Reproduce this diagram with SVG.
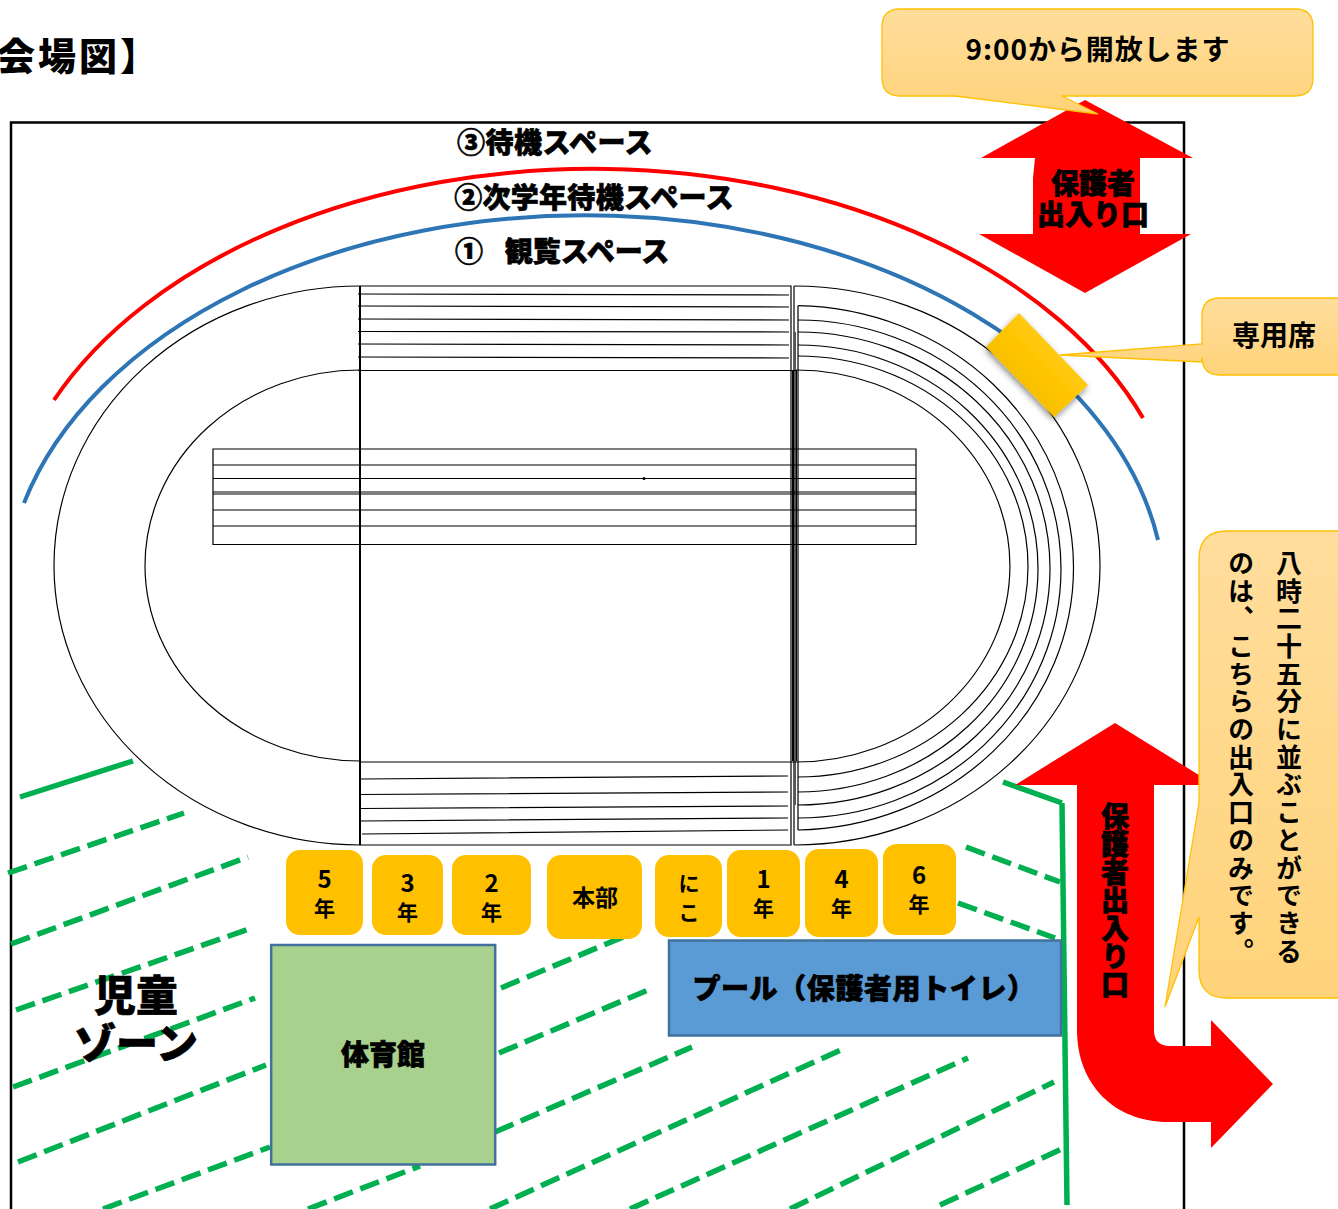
<svg xmlns="http://www.w3.org/2000/svg" width="1338" height="1209" viewBox="0 0 1338 1209">
<style>
text{font-family:"Noto Sans CJK JP","Noto Sans",sans-serif;fill:#000;text-anchor:middle}
.pop{font-weight:900;font-size:28px;stroke:#000;stroke-width:.7px}
.lab{font-weight:700;font-size:28px}
.box{fill:#ffc000;stroke:none}
.num{font-weight:700;font-size:24px}
.t{fill:none;stroke:#000;stroke-width:1.2}
.g{fill:none;stroke:#00b050;stroke-width:5.500}
.d{fill:none;stroke:#00b050;stroke-width:5.500;stroke-dasharray:20 8}
.call{fill:url(#cg);stroke:#ffc000;stroke-width:1.3}
.red{fill:#f00}
.vert{writing-mode:vertical-rl;text-orientation:upright;font-weight:700;font-size:26px;letter-spacing:1.700px;text-anchor:start}
</style>
<defs>
<linearGradient id="cg" x1="0" y1="0" x2="0" y2="1"><stop offset="0" stop-color="#ffdd9c"/><stop offset="1" stop-color="#ffd37a"/></linearGradient>
<linearGradient id="seat" x1="0" y1="1" x2="1" y2="0"><stop offset="0" stop-color="#e8b000"/><stop offset=".5" stop-color="#ffc600"/><stop offset="1" stop-color="#ffd040"/></linearGradient>
<filter id="sh" x="-30%" y="-30%" width="160%" height="160%"><feDropShadow dx="-1" dy="3" stdDeviation="3" flood-color="#000" flood-opacity=".45"/></filter>
</defs>
<rect width="1338" height="1209" fill="#fff"/>
<text id="title" x="-3" y="70" font-size="38" font-weight="900" letter-spacing="3" style="text-anchor:start">会場図】</text>
<rect id="frame" x="11" y="122.500" width="1173" height="1100" fill="none" stroke="#000" stroke-width="2.500"/>

<g id="zones">
<path class="g" d="M20 797L133 761M1003 782L1062 803M1062 803L1067 1205"/>
<path class="d" d="M8 873L184 813M11 944L248 857M16 1010L252 928M13 1087L255 998M18 1162L266 1065M103 1209L270 1147M501 988L623 937M499 1053L648 990M495 1132L692 1047M308 1209L420 1166M490 1209L845 1048M630 1209L968 1058M790 1209L1054 1082M940 1205L1064 1148M966 847L1060 882M958 903L1055 938"/>
</g>

<g id="boundaries">
<path d="M54 400A590 390 0 0 1 1143 418" fill="none" stroke="#f00" stroke-width="4"/>
<path d="M24 503A580 385 0 0 1 1158 540" fill="none" stroke="#2e75b6" stroke-width="4"/>
</g>

<g id="track">
<path class="t" d="M360 286A306 279.500 0 0 0 360 845M360 370A215 195.500 0 0 0 360 761"/>
<path class="t" d="M794 286A306 279.500 0 0 1 794 845"/>
<path class="t" d="M798 305.700A281 262.200 0 0 1 798 830M798 320A263 249 0 0 1 798 818M798 332A252 236.500 0 0 1 798 805M798 345A240 223.500 0 0 1 798 792M798 356A230 210.500 0 0 1 798 777M796 370A214 196 0 0 1 796 762"/>
<path class="t" d="M360 286H791V845H360M794 286V845M798 305.700V830"/>
<path d="M360 286V845" fill="none" stroke="#000" stroke-width="2"/>
<path d="M794.500 370V761" fill="none" stroke="#000" stroke-width="5"/>
<path d="M795 332V805" fill="none" stroke="#555" stroke-width="2"/>
<path class="t" d="M358 294L789 295M358 306L789 307M358 319L789 320M358 331.500L789 332M358 344L789 345M358 357L789 358M358 370.500H796"/>
<path class="t" d="M360 762H796M361 779L788 776M361 794.500L788 792M361 808.500L788 806M361 821L788 818M362 834L788 830"/>
<path class="t" d="M213 449H916V544.500H213ZM213 465H916M213 478.500H916M213 492H916M213 494H916M213 510H916M213 526H916"/>
<circle cx="644" cy="478.500" r="1.500" fill="#000"/>
</g>

<text id="label-3" class="pop" x="555" y="153" letter-spacing=".5">③待機スペース</text>
<text id="label-2" class="pop" x="594" y="208" letter-spacing=".3">②次学年待機スペース</text>
<text id="label-1" class="pop" x="469" y="262">①<tspan x="587">観覧スペース</tspan></text>

<g id="arrow-parents">
<path class="red" d="M1085 100L1193 158H1140V234H1191L1085 293L979 234H1033V178L1035 158H981Z"/>
<text class="pop" x="1093" y="194">保護者</text>
<text class="pop" x="1093" y="225">出入り口</text>
</g>

<g id="arrow-exit">
<path class="red" d="M1115 723L1215 785H1154V1030Q1154 1046 1170 1046H1211V1020L1273 1084L1211 1148V1122H1168C1115 1122 1077 1085 1077 1030V785H1015Z"/>
<text class="pop vert" x="1115" y="802" style="font-weight:900;font-size:28px;letter-spacing:0">保護者出入り口</text>
</g>

<g id="seat-block">
<polygon points="1019,313 986,347 1054,417 1088,385" fill="url(#seat)" filter="url(#sh)"/>
</g>

<g id="callout-open">
<path class="call" d="M900 9H1295Q1313 9 1313 27V78Q1313 96 1295 96H1062L1098 114L955 96H900Q882 96 882 78V27Q882 9 900 9Z"/>
<text x="1097.500" y="60" class="lab" textLength="264" lengthAdjust="spacing">9:00から開放します</text>
</g>

<g id="callout-seat">
<path class="call" d="M1220 298H1345V375H1220Q1202 375 1202 357V362L1060 355L1202 344V316Q1202 298 1220 298Z"/>
<text x="1274" y="346" class="lab">専用席</text>
</g>

<g id="callout-exit">
<path class="call" d="M1227 531H1345V998H1227Q1199 998 1199 970V917L1165 1007L1199 803V559Q1199 531 1227 531Z"/>
<text class="vert" x="1289" y="550">八時二十五分に並ぶことができる</text>
<text class="vert" x="1241" y="550">のは、こちらの出入口のみです。</text>
</g>

<g id="box-5"><rect class="box" x="286" y="850" width="77" height="85" rx="14"/><text class="num" x="324.500" y="888">5</text><text class="num" x="324.500" y="916" style="font-size:21px">年</text></g>
<g id="box-3"><rect class="box" x="372" y="855" width="71" height="80" rx="14"/><text class="num" x="407.500" y="892">3</text><text class="num" x="407.500" y="920" style="font-size:21px">年</text></g>
<g id="box-2"><rect class="box" x="452" y="855" width="79" height="80" rx="14"/><text class="num" x="491.500" y="892">2</text><text class="num" x="491.500" y="920" style="font-size:21px">年</text></g>
<g id="box-hq"><rect class="box" x="547" y="855" width="95" height="84" rx="14"/><text class="num" x="595" y="906" style="font-size:23px">本部</text></g>
<g id="box-niko"><rect class="box" x="655" y="855" width="67" height="82" rx="14"/><text class="num" x="689" y="891" style="font-size:21px">に</text><text class="num" x="689" y="920" style="font-size:21px">こ</text></g>
<g id="box-1"><rect class="box" x="727" y="850" width="73" height="87" rx="14"/><text class="num" x="763.500" y="888">1</text><text class="num" x="763.500" y="916" style="font-size:21px">年</text></g>
<g id="box-4"><rect class="box" x="805" y="849" width="73" height="88" rx="14"/><text class="num" x="841.500" y="888">4</text><text class="num" x="841.500" y="916" style="font-size:21px">年</text></g>
<g id="box-6"><rect class="box" x="883" y="844" width="73" height="91" rx="14"/><text class="num" x="919" y="884">6</text><text class="num" x="919" y="912" style="font-size:21px">年</text></g>

<g id="gym"><rect x="271.200" y="945" width="224" height="219.500" fill="#a9d18e" stroke="#41719c" stroke-width="2.500"/><text class="pop" x="383" y="1065">体育館</text></g>
<g id="pool"><rect x="669" y="940.500" width="392" height="95" fill="#5b9bd5" stroke="#41719c" stroke-width="2.500"/><text class="pop" x="864" y="999" letter-spacing=".6">プール（保護者用トイレ）</text></g>

<g id="zone-label">
<text class="pop" x="136" y="1011" style="font-size:42px">児童</text>
<text class="pop" x="136" y="1059" style="font-size:42px">ゾーン</text>
</g>
</svg>
